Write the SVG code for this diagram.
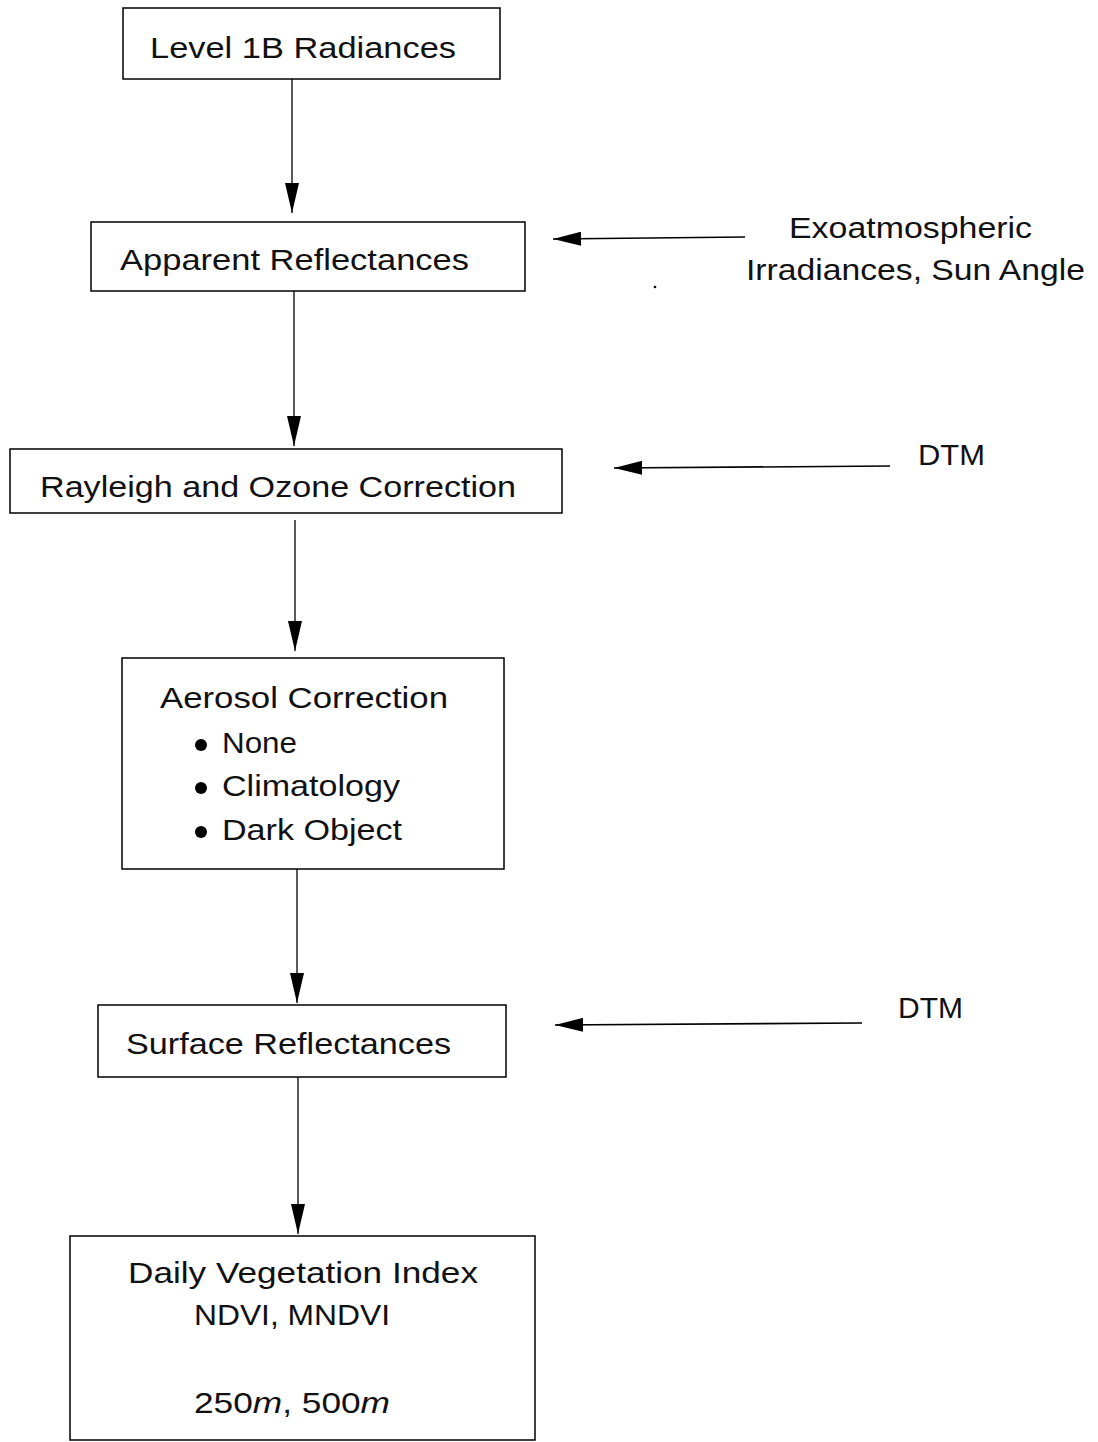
<svg xmlns="http://www.w3.org/2000/svg" width="1098" height="1442" viewBox="0 0 1098 1442">
  <defs>
    <marker id="head" viewBox="0 0 30 14" refX="30" refY="7" markerWidth="30" markerHeight="14" markerUnits="userSpaceOnUse" orient="auto">
      <path d="M0,0 L30,7 L0,14 Z" fill="#000"/>
    </marker>
    <marker id="headH" viewBox="0 0 28 14" refX="28" refY="7" markerWidth="28" markerHeight="14" markerUnits="userSpaceOnUse" orient="auto">
      <path d="M0,0 L28,7 L0,14 Z" fill="#000"/>
    </marker>
  </defs>
  <style>
    .box { fill: #fff; stroke: #000; stroke-width: 1.5; }
    .lbl { font-family: "Liberation Sans", "DejaVu Sans", sans-serif; font-size: 30px; fill: #111; }
    .link { stroke: #000; stroke-width: 1.3; fill: none; }
    .down { marker-end: url(#head); }
    .side { marker-end: url(#headH); stroke-width: 1.6; }
  </style>
  <rect width="1098" height="1442" fill="#fff"/>

  <g id="connectors">
    <line class="link down" x1="292" y1="79" x2="292" y2="213"/>
    <line class="link down" x1="294" y1="291" x2="294" y2="446"/>
    <line class="link down" x1="295" y1="520" x2="295" y2="651"/>
    <line class="link down" x1="297" y1="869" x2="297" y2="1003"/>
    <line class="link down" x1="298" y1="1077" x2="298" y2="1234"/>
    <line class="link side" x1="745" y1="237" x2="553" y2="239"/>
    <line class="link side" x1="890" y1="466" x2="614" y2="468"/>
    <line class="link side" x1="862" y1="1023" x2="555" y2="1025"/>
  </g>

  <g id="level1b">
    <rect class="box" x="123" y="8" width="377" height="71"/>
    <text class="lbl" x="150" y="58" textLength="306" lengthAdjust="spacingAndGlyphs">Level 1B  Radiances</text>
  </g>

  <g id="apparent">
    <rect class="box" x="91" y="222" width="434" height="69"/>
    <text class="lbl" x="120" y="270" textLength="349" lengthAdjust="spacingAndGlyphs">Apparent Reflectances</text>
  </g>

  <g id="exo-input">
    <text class="lbl" x="789" y="238" textLength="243" lengthAdjust="spacingAndGlyphs">Exoatmospheric</text>
    <text class="lbl" x="746" y="280" textLength="339" lengthAdjust="spacingAndGlyphs">Irradiances, Sun Angle</text>
    <circle cx="655" cy="287" r="1.3" fill="#000"/>
  </g>

  <g id="rayleigh">
    <rect class="box" x="10" y="449" width="552" height="64"/>
    <text class="lbl" x="40" y="497" textLength="476" lengthAdjust="spacingAndGlyphs">Rayleigh and Ozone Correction</text>
  </g>

  <g id="dtm-1">
    <text class="lbl" x="918" y="465" textLength="67" lengthAdjust="spacingAndGlyphs">DTM</text>
  </g>

  <g id="aerosol">
    <rect class="box" x="122" y="658" width="382" height="211"/>
    <text class="lbl" x="160" y="708" textLength="288" lengthAdjust="spacingAndGlyphs">Aerosol Correction</text>
    <circle cx="201" cy="745" r="6" fill="#000"/>
    <text class="lbl" x="222" y="753" textLength="75" lengthAdjust="spacingAndGlyphs">None</text>
    <circle cx="201" cy="788" r="6" fill="#000"/>
    <text class="lbl" x="222" y="796" textLength="178" lengthAdjust="spacingAndGlyphs">Climatology</text>
    <circle cx="201" cy="832" r="6" fill="#000"/>
    <text class="lbl" x="222" y="840" textLength="180" lengthAdjust="spacingAndGlyphs">Dark Object</text>
  </g>

  <g id="surface">
    <rect class="box" x="98" y="1005" width="408" height="72"/>
    <text class="lbl" x="126" y="1054" textLength="325" lengthAdjust="spacingAndGlyphs">Surface Reflectances</text>
  </g>

  <g id="dtm-2">
    <text class="lbl" x="898" y="1018" textLength="65" lengthAdjust="spacingAndGlyphs">DTM</text>
  </g>

  <g id="ndvi">
    <rect class="box" x="70" y="1236" width="465" height="204"/>
    <text class="lbl" x="128" y="1283" textLength="350" lengthAdjust="spacingAndGlyphs">Daily Vegetation Index</text>
    <text class="lbl" x="194" y="1325" textLength="196" lengthAdjust="spacingAndGlyphs">NDVI, MNDVI</text>
    <text class="lbl" x="194" y="1413" textLength="196" lengthAdjust="spacingAndGlyphs">250<tspan font-style="italic">m</tspan>, 500<tspan font-style="italic">m</tspan></text>
  </g>
</svg>
